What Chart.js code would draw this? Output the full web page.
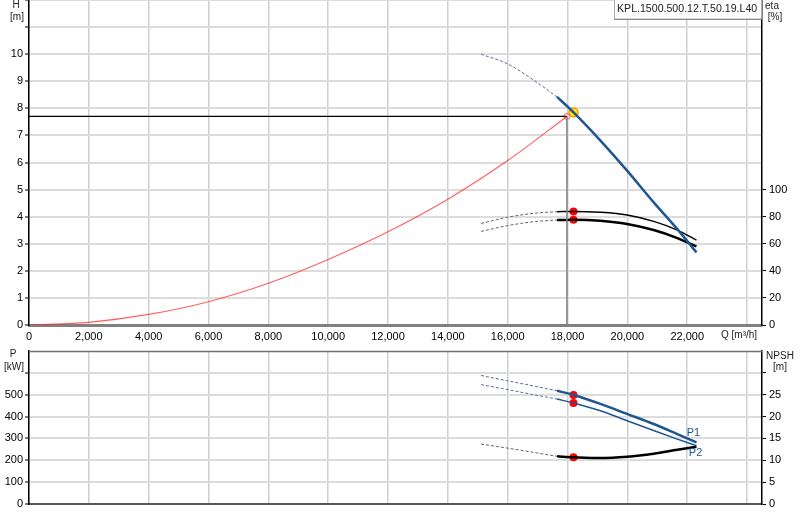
<!DOCTYPE html>
<html>
<head>
<meta charset="utf-8">
<script src="https://cdn.jsdelivr.net/npm/chart.js@4.4.0/dist/chart.umd.min.js"></script>
<style>
  body { margin: 0; background: #fff; width: 800px; height: 520px; overflow: hidden; position: relative; }
  canvas { position: absolute; left: 0; }
  #top { top: 0; }
  #bottom { top: 345px; }
</style>
</head>
<body>
<canvas id="top" width="800" height="345"></canvas>
<canvas id="bottom" width="800" height="175"></canvas>
<script>
// flow values (m3/h) for the dotted extension and the solid working range
const qExt  = [15110, 15980, 16870, 17650];
const qWork = [17650, 18200, 19100, 19990, 20880, 21670, 22310];

// head H [m]
const headExt  = [10.0, 9.65, 9.04, 8.42];
const headWork = [8.42, 7.85, 6.81, 5.70, 4.53, 3.54, 2.68];

// efficiency eta [%] (two curves)
const eta1Ext  = [75.0, 79.5, 82.5, 83.7];
const eta1Work = [83.7, 83.9, 83.2, 81.2, 76.5, 70.1, 62.7];
const eta2Ext  = [69.1, 73.3, 76.3, 77.5];
const eta2Work = [77.5, 77.8, 77.0, 74.6, 70.1, 64.2, 58.0];

// power P1 / P2 [kW]
const p1Ext  = [588, 564, 540, 518];
const p1Work = [518, 499, 458, 412, 366, 320, 282];
const p2Ext  = [546, 524, 500, 480];
const p2Work = [480, 462, 427, 381, 336, 297, 267];

// NPSH [m]
const npshExt  = [13.7, 12.8, 11.8, 10.9];
const npshWork = [10.9, 10.7, 10.5, 10.8, 11.5, 12.4, 13.1];

// system curve
const qSys = [0, 2000, 4000, 6000, 8000, 10000, 12000, 14000, 16000, 17980];
const hSys = [0, 0.10, 0.39, 0.86, 1.54, 2.42, 3.44, 4.64, 6.07, 7.70];

// duty point
const dutyQ = 18200, dutyH = 7.85, dutyEta = [83.9, 77.8], dutyP = [499, 462], dutyNpsh = 10.7;
const sysQ = 17980, sysH = 7.70;

// ticks
const qTicks    = [0, 2000, 4000, 6000, 8000, 10000, 12000, 14000, 16000, 18000, 20000, 22000, 24000];
const hTicks    = [0, 1, 2, 3, 4, 5, 6, 7, 8, 9, 10, 11, 12];
const etaTicks  = [0, 20, 40, 60, 80, 100];
const pTicks    = [0, 100, 200, 300, 400, 500, 600];
const npshTicks = [0, 5, 10, 15, 20, 25, 30];

const model = 'KPL.1500.500.12.T.50.19.L40';

const BLUE = '#1f5591';
const FONT = '"Liberation Sans", Arial, sans-serif';

function pts(qs, vs) { return qs.map((q, i) => ({ x: q, y: vs[i] })); }

function curve(data, axis, color, width, dashed) {
  return {
    data: data, yAxisID: axis, borderColor: color, borderWidth: width,
    borderDash: dashed ? [3, 2] : [], pointRadius: 0, fill: false,
    tension: 0.4, cubicInterpolationMode: 'monotone'
  };
}

function dot(q, v, axis) {
  return {
    data: [{ x: q, y: v }], yAxisID: axis, showLine: false,
    pointRadius: 4, pointBackgroundColor: '#ff0000', pointBorderColor: '#ff0000', pointBorderWidth: 0
  };
}

function fixW(w) { return s => { s.width = w; s.paddingTop = 0; s.paddingBottom = 0; }; }
function fixH(h) { return s => { s.height = h; s.paddingLeft = 0; s.paddingRight = 0; }; }
function setTicks(list) { return s => { s.ticks = list.map(v => ({ value: v })); }; }
function fmt(v) { return String(v).replace(/\B(?=(\d{3})+(?!\d))/g, ','); }

const tickFont = { family: FONT, size: 11 };

function text(ctx, str, x, y, size, align, color) {
  ctx.save();
  ctx.font = size + 'px ' + FONT;
  ctx.fillStyle = color || '#222';
  ctx.textAlign = align || 'center';
  ctx.textBaseline = 'middle';
  ctx.fillText(str, x, y);
  ctx.restore();
}

// ---------- top chart: H / eta ----------
const topLabels = {
  id: 'topLabels',
  afterDraw(chart) {
    const ctx = chart.ctx;
    text(ctx, 'H', 16, 5, 10);
    text(ctx, '[m]', 17, 17, 10);
    text(ctx, 'eta', 772, 6, 10);
    text(ctx, '[%]', 775, 17, 10);
    text(ctx, 'Q [m\u00b3/h]', 721, 335, 10, 'left');

    // model box
    ctx.save();
    ctx.fillStyle = '#fff';
    ctx.fillRect(614, 0, 147, 19);
    ctx.strokeStyle = '#a8a8a8';
    ctx.lineWidth = 1;
    ctx.strokeRect(614.5, -1, 147, 20);
    ctx.strokeStyle = '#8a8a8a';
    ctx.beginPath();
    ctx.moveTo(614, 19.5); ctx.lineTo(761, 19.5);
    ctx.stroke();
    ctx.restore();
    text(ctx, model, 617, 9, 10.6, 'left');
  }
};

new Chart(document.getElementById('top'), {
  type: 'line',
  data: {
    datasets: [
      curve(pts(qSys, hSys), 'h', 'rgba(255,30,30,0.7)', 1.2, false),
      curve(pts([0, sysQ], [sysH, sysH]), 'h', '#000', 1.2, false),
      curve(pts([sysQ, sysQ], [sysH, 0]), 'h', '#808080', 1.5, false),
      curve(pts(qExt, headExt), 'h', '#5a6f95', 1, true),
      curve(pts(qWork, headWork), 'h', BLUE, 2.5, false),
      curve(pts(qExt, eta1Ext), 'eta', '#666', 1, true),
      curve(pts(qWork, eta1Work), 'eta', '#000', 1.5, false),
      curve(pts(qExt, eta2Ext), 'eta', '#666', 1, true),
      curve(pts(qWork, eta2Work), 'eta', '#000', 2.5, false),
      dot(dutyQ, dutyEta[0], 'eta'),
      dot(dutyQ, dutyEta[1], 'eta'),
      { data: [{ x: sysQ, y: sysH }], yAxisID: 'h', showLine: false, pointRadius: 3,
        pointBackgroundColor: 'rgba(255,255,255,0)', pointBorderColor: 'rgba(255,60,60,0.8)', pointBorderWidth: 1 },
      { data: [{ x: dutyQ, y: dutyH }], yAxisID: 'h', showLine: false, pointRadius: 4.5,
        pointBackgroundColor: '#ffe600', pointBorderColor: '#ff9a00', pointBorderWidth: 1.5 }
    ]
  },
  options: {
    responsive: false, animation: false, events: [],
    layout: { padding: { top: 0, left: 0, right: 0, bottom: 0 }, autoPadding: false },
    plugins: { legend: { display: false }, tooltip: { enabled: false } },
    scales: {
      x: {
        type: 'linear', min: 0, max: 24500,
        afterBuildTicks: setTicks(qTicks), afterFit: fixH(20),
        ticks: { font: tickFont, color: '#000', padding: 5, autoSkip: false, maxRotation: 0,
                 callback: v => v < 24000 ? fmt(v) : '' },
        grid: { color: '#cfcfcf', lineWidth: 1.5, drawTicks: false },
        border: { color: '#808080', width: 3 }
      },
      h: {
        position: 'left', min: 0, max: 12,
        afterBuildTicks: setTicks(hTicks), afterFit: fixW(29),
        ticks: { font: tickFont, color: '#000', padding: 2, callback: v => v <= 10 ? v : '' },
        grid: { color: '#dcdcdc', lineWidth: 2, tickLength: 4, tickColor: '#000', tickWidth: 1 },
        border: { color: '#000', width: 1.5 }
      },
      eta: {
        position: 'right', min: 0, max: 240,
        afterBuildTicks: setTicks(etaTicks), afterFit: fixW(38),
        ticks: { font: tickFont, color: '#000', padding: 3 },
        grid: { drawOnChartArea: false, tickLength: 4, tickColor: '#000', tickWidth: 1 },
        border: { color: '#000', width: 1.5 }
      }
    }
  },
  plugins: [topLabels]
});

// ---------- bottom chart: P / NPSH ----------
const bottomLabels = {
  id: 'bottomLabels',
  afterDraw(chart) {
    const ctx = chart.ctx;
    const a = chart.chartArea;
    const x = chart.scales.x, p = chart.scales.p;
    ctx.save();
    ctx.strokeStyle = '#707070';
    ctx.lineWidth = 1.5;
    ctx.beginPath();
    ctx.moveTo(a.left, a.top + 0.5); ctx.lineTo(a.right, a.top + 0.5);
    ctx.stroke();
    ctx.restore();
    text(ctx, 'P', 13, 9, 10);
    text(ctx, '[kW]', 14, 22, 10);
    text(ctx, 'NPSH', 780, 11, 10);
    text(ctx, '[m]', 780, 22, 10);
    text(ctx, 'P1', x.getPixelForValue(22210), p.getPixelForValue(326), 11, 'center', BLUE);
    text(ctx, 'P2', x.getPixelForValue(22280), p.getPixelForValue(235), 11, 'center', BLUE);
  }
};

new Chart(document.getElementById('bottom'), {
  type: 'line',
  data: {
    datasets: [
      curve(pts(qExt, p1Ext), 'p', '#5a6f95', 1, true),
      curve(pts(qWork, p1Work), 'p', BLUE, 2.5, false),
      curve(pts(qExt, p2Ext), 'p', '#5a6f95', 1, true),
      curve(pts(qWork, p2Work), 'p', BLUE, 1.5, false),
      curve(pts(qExt, npshExt), 'npsh', '#666', 1, true),
      curve(pts(qWork, npshWork), 'npsh', '#000', 2.5, false),
      dot(dutyQ, dutyP[0], 'p'),
      dot(dutyQ, dutyP[1], 'p'),
      dot(dutyQ, dutyNpsh, 'npsh')
    ]
  },
  options: {
    responsive: false, animation: false, events: [],
    layout: { padding: { top: 6, left: 0, right: 0, bottom: 0 }, autoPadding: false },
    plugins: { legend: { display: false }, tooltip: { enabled: false } },
    scales: {
      x: {
        type: 'linear', min: 0, max: 24500,
        afterBuildTicks: setTicks(qTicks), afterFit: fixH(16),
        ticks: { display: false },
        grid: { color: '#cfcfcf', lineWidth: 1.5, drawTicks: false },
        border: { color: '#555', width: 2 }
      },
      p: {
        position: 'left', min: 0, max: 700,
        afterBuildTicks: setTicks(pTicks), afterFit: fixW(29),
        ticks: { font: tickFont, color: '#000', padding: 2, callback: v => v <= 500 ? v : '' },
        grid: { color: '#dcdcdc', lineWidth: 2, tickLength: 4, tickColor: '#000', tickWidth: 1 },
        border: { color: '#000', width: 1.5 }
      },
      npsh: {
        position: 'right', min: 0, max: 35,
        afterBuildTicks: setTicks(npshTicks), afterFit: fixW(38),
        ticks: { font: tickFont, color: '#000', padding: 3, callback: v => v <= 25 ? v : '' },
        grid: { drawOnChartArea: false, tickLength: 4, tickColor: '#000', tickWidth: 1 },
        border: { color: '#000', width: 1.5 }
      }
    }
  },
  plugins: [bottomLabels]
});
</script>
</body>
</html>
